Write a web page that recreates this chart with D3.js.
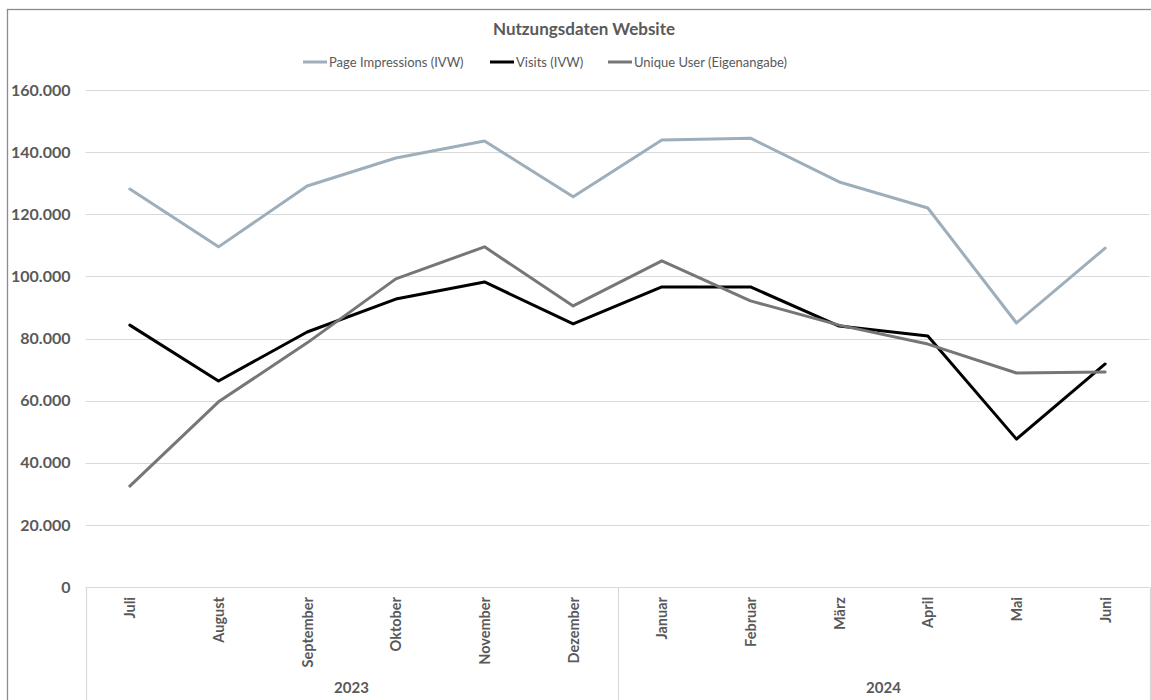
<!DOCTYPE html>
<html><head><meta charset="utf-8">
<script src="https://cdn.jsdelivr.net/npm/d3@7"></script>
<style>
html,body{margin:0;padding:0;background:#fff;}
svg{display:block;font-family:Lato, "Open Sans", sans-serif;}
</style></head>
<body>
<svg id="chart" width="1151" height="700"></svg>
<script>
const months = ["Juli","August","September","Oktober","November","Dezember","Januar","Februar","März","April","Mai","Juni"];
const years = [{label:"2023", from:0, to:6},{label:"2024", from:6, to:12}];
const pageImpressions = [128100,109500,129100,138100,143600,125600,143900,144500,130400,122000,85000,109100];
const visits = [84300,66300,82100,92700,98200,84700,96600,96600,84000,80800,47600,71800];
const uniqueUser = [32500,59600,78600,99200,109500,90500,105000,92100,84300,78200,68900,69200];
const yTicks = [0,20000,40000,60000,80000,100000,120000,140000,160000];
const seriesNames = ["Page Impressions (IVW)","Visits (IVW)","Unique User (Eigenangabe)"];
const seriesColors = ["#9EAFBB","#000000","#767676"];

(function(){
const series = [pageImpressions, visits, uniqueUser].map((v,i)=>({name:seriesNames[i], color:seriesColors[i], values:v}));

const svg = d3.select("#chart");
const pLeft = 85.5, pRight = 1149.5, pTop = 90, pBottom = 587;

svg.append("rect").attr("x",7.5).attr("y",9.5).attr("width",1160).attr("height",700)
  .attr("fill","none").attr("stroke","#8c8c8c").attr("stroke-width",1.3);

const x = d3.scaleBand().domain(months).range([pLeft,pRight]).padding(0);
const y = d3.scaleLinear().domain([0,160000]).range([pBottom,pTop]);
const fmt = d3.formatLocale({decimal:",",thousands:".",grouping:[3],currency:["","€"]}).format(",.0f");

svg.append("g").selectAll("line").data(yTicks.filter(d=>d>0)).join("line")
  .attr("x1",pLeft).attr("x2",pRight).attr("y1",d=>Math.round(y(d))+0.5).attr("y2",d=>Math.round(y(d))+0.5)
  .attr("stroke","#d9d9d9").attr("stroke-width",1);

const yAxis = d3.axisLeft(y).tickValues(yTicks).tickFormat(fmt).tickSize(0).tickPadding(15);
const ya = svg.append("g").attr("transform",`translate(${pLeft},0)`).call(yAxis);
ya.select(".domain").remove();
ya.selectAll("text").attr("font-size",16).attr("font-weight","bold").attr("fill","#595959")
  .attr("font-family","Lato, sans-serif");

svg.append("line").attr("x1",pLeft).attr("x2",pRight).attr("y1",pBottom+0.5).attr("y2",pBottom+0.5)
  .attr("stroke","#d9d9d9").attr("stroke-width",1.2);
const sepX = [pLeft, x(months[6]), pRight];
svg.append("g").selectAll("line").data(sepX).join("line")
  .attr("x1",d=>Math.round(d)+0.5).attr("x2",d=>Math.round(d)+0.5).attr("y1",pBottom).attr("y2",700)
  .attr("stroke","#d9d9d9").attr("stroke-width",1.2);

svg.append("g").selectAll("text").data(months).join("text")
  .attr("transform",d=>`translate(${x(d)+x.bandwidth()/2+5.5},597) rotate(-90)`)
  .attr("text-anchor","end").attr("font-size",14.5).attr("font-weight","bold").attr("fill","#595959")
  .text(d=>d);

svg.append("g").selectAll("text").data(years).join("text")
  .attr("x",d=>(x(months[d.from]) + (d.to<12 ? x(months[d.to]) : pRight))/2)
  .attr("y",693).attr("text-anchor","middle").attr("font-size",15).attr("font-weight","bold").attr("fill","#595959")
  .text(d=>d.label);

const line = d3.line().x((d,i)=>x(months[i])+x.bandwidth()/2).y(d=>y(d));
svg.append("g").selectAll("path").data(series).join("path")
  .attr("d",d=>line(d.values)).attr("fill","none").attr("stroke",d=>d.color)
  .attr("stroke-width",3).attr("stroke-linejoin","round").attr("stroke-linecap","round");

svg.append("text").attr("x",584).attr("y",35).attr("text-anchor","middle")
  .attr("font-size",17).attr("font-weight","bold").attr("fill","#595959").text("Nutzungsdaten Website");

const legX = [303, 490, 608];
const lg = svg.append("g").selectAll("g").data(series).join("g")
  .attr("transform",(d,i)=>`translate(${legX[i]},62)`);
lg.append("line").attr("x1",0).attr("x2",24).attr("y1",0).attr("y2",0)
  .attr("stroke",d=>d.color).attr("stroke-width",3);
lg.append("text").attr("x",26).attr("y",5).attr("font-size",13).attr("fill","#595959").text(d=>d.name);
})();
</script>
</body></html>
